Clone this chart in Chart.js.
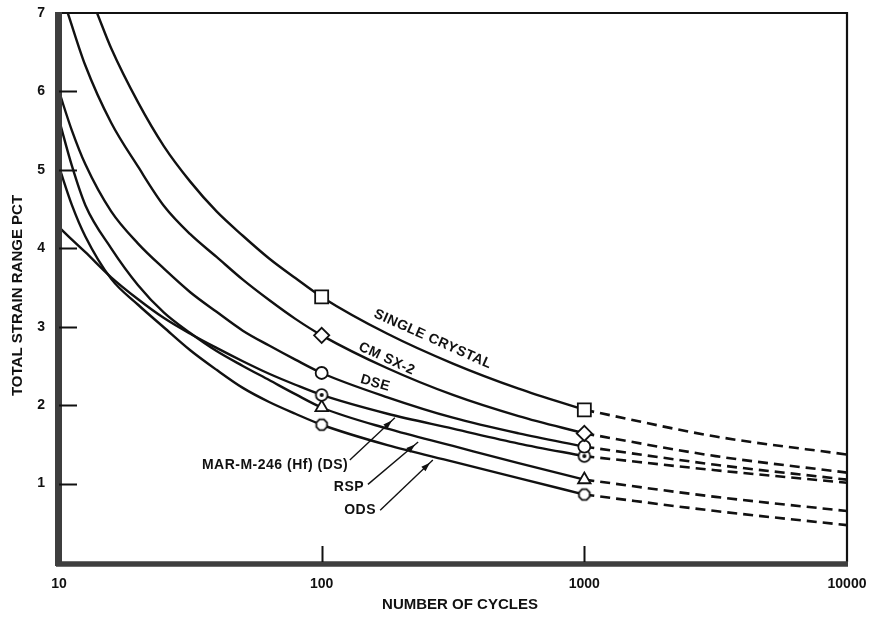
<!DOCTYPE html>
<html>
<head>
<meta charset="utf-8">
<script src="https://cdn.jsdelivr.net/npm/chart.js@4.4.1/dist/chart.umd.min.js"></script>
<style>
  html, body { margin: 0; padding: 0; background: #fff; }
  canvas { display: block; }
</style>
</head>
<body>
<canvas id="c" width="872" height="618"></canvas>
<script>
// ---------- data ----------
const xTickValues = [10, 100, 1000, 10000];
const yTickValues = [1, 2, 3, 4, 5, 6, 7];
const markerCycles = [100, 1000];
const xTitle = 'NUMBER OF CYCLES';
const yTitle = 'TOTAL STRAIN RANGE PCT';

// cycles at which the lower curves were read
const cyc  = [10, 11.2, 12.6, 15.8, 20, 25.1, 31.6, 39.8, 50.1, 63.1, 79.4, 100, 178, 316, 562, 1000];

const scX  = [13.96, 15.8, 20, 25.1, 31.6, 39.8, 50.1, 63.1, 79.4, 100, 178, 316, 562, 1000];
const scY  = [7.0, 6.55, 5.86, 5.30, 4.85, 4.47, 4.16, 3.87, 3.62, 3.38, 2.91, 2.53, 2.21, 1.94];
const cmX  = [10.8, 12.6, 15.8, 20, 25.1, 31.6, 39.8, 50.1, 63.1, 79.4, 100, 178, 316, 562, 1000];
const cmY  = [7.0, 6.33, 5.60, 5.04, 4.54, 4.18, 3.89, 3.60, 3.34, 3.10, 2.89, 2.47, 2.13, 1.86, 1.64];
const dseY = [6.0, 5.50, 5.07, 4.47, 4.06, 3.74, 3.44, 3.19, 2.95, 2.76, 2.58, 2.41, 2.10, 1.84, 1.64, 1.47];
const marY = [4.27, 4.11, 3.95, 3.63, 3.35, 3.11, 2.91, 2.73, 2.56, 2.40, 2.26, 2.13, 1.89, 1.70, 1.51, 1.35];
const rspY = [5.64, 5.05, 4.55, 4.00, 3.53, 3.18, 2.92, 2.69, 2.50, 2.32, 2.14, 1.97, 1.70, 1.48, 1.26, 1.05];
const odsY = [5.04, 4.55, 4.15, 3.61, 3.28, 2.99, 2.70, 2.45, 2.22, 2.04, 1.89, 1.75, 1.49, 1.28, 1.07, 0.86];

// extrapolated (dashed) parts
const extX   = [1000, 3162, 10000];
const scExt  = [1.94, 1.60, 1.37];
const cmExt  = [1.64, 1.35, 1.14];
const dseExt = [1.47, 1.24, 1.05];
const marExt = [1.35, 1.17, 1.01];
const rspExt = [1.05, 0.83, 0.65];
const odsExt = [0.86, 0.65, 0.47];

const seriesNames = ['SINGLE CRYSTAL', 'CM SX-2', 'DSE', 'MAR-M-246 (Hf) (DS)', 'RSP', 'ODS'];

// ---------- custom marker images ----------
function makeMarker(kind) {
  const c = document.createElement('canvas');
  const s = 16;
  c.width = s; c.height = s;
  const g = c.getContext('2d');
  g.lineWidth = 1.8;
  g.strokeStyle = '#111';
  g.fillStyle = '#fff';
  const cx = s / 2, cy = s / 2;
  if (kind === 'dotcircle') {
    g.beginPath(); g.arc(cx, cy, 5.8, 0, Math.PI * 2); g.fill(); g.stroke();
    g.fillStyle = '#111';
    g.beginPath(); g.arc(cx, cy, 2.0, 0, Math.PI * 2); g.fill();
  } else {
    g.beginPath();
    for (let i = 0; i < 8; i++) {
      const a = Math.PI / 8 + i * Math.PI / 4;
      const r = 5.8;
      const px = cx + r * Math.cos(a), py = cy + r * Math.sin(a);
      if (i === 0) g.moveTo(px, py); else g.lineTo(px, py);
    }
    g.closePath(); g.fill(); g.stroke();
  }
  return c;
}
const dotCircle = makeMarker('dotcircle');
const octagon = makeMarker('octagon');

function pts(xs, ys) { return xs.map((x, i) => ({ x: x, y: ys[i] })); }

function solid(name, xs, ys, style, radius) {
  return {
    label: name,
    data: pts(xs, ys),
    borderColor: '#111',
    borderWidth: 2.4,
    cubicInterpolationMode: 'monotone',
    fill: false,
    order: 0,
    pointStyle: style,
    pointBackgroundColor: '#fff',
    pointBorderColor: '#111',
    pointBorderWidth: 1.8,
    pointRadius: ctx => (ctx.raw && markerCycles.includes(ctx.raw.x)) ? radius : 0,
    pointHoverRadius: ctx => (ctx.raw && markerCycles.includes(ctx.raw.x)) ? radius : 0
  };
}
function dashed(name, ys) {
  return {
    label: name + ' (extrapolated)',
    data: pts(extX, ys),
    borderColor: '#111',
    borderWidth: 2.6,
    borderDash: [10, 6],
    cubicInterpolationMode: 'monotone',
    fill: false,
    order: 1,
    pointRadius: 0,
    pointHoverRadius: 0
  };
}

// ---------- annotations (positions in data units) ----------
const curveLabels = [
  { text: 'SINGLE CRYSTAL', x: 265, y: 2.84, rot: 24, align: 'center' },
  { text: 'CM SX-2', x: 177, y: 2.59, rot: 25, align: 'center' },
  { text: 'DSE', x: 160, y: 2.28, rot: 16, align: 'center' },
  { text: 'MAR-M-246 (Hf) (DS)', x: 35, y: 1.24, rot: 0, align: 'left' },
  { text: 'RSP', x: 127, y: 0.96, rot: 0, align: 'center' },
  { text: 'ODS', x: 140, y: 0.66, rot: 0, align: 'center' }
];
const leaders = [
  { from: [128, 1.30], to: [190, 1.84] },
  { from: [150, 0.99], to: [233, 1.53] },
  { from: [167, 0.66], to: [265, 1.30] }
];

const FONT = '"Liberation Sans", Arial, Helvetica, sans-serif';

const decorPlugin = {
  id: 'decor',
  afterDatasetsDraw(chart) {
    const { ctx, chartArea: a, scales: { x, y } } = chart;
    ctx.save();
    ctx.strokeStyle = '#111';
    ctx.lineWidth = 2.2;
    ctx.beginPath();
    ctx.moveTo(a.left, a.top); ctx.lineTo(a.right, a.top); ctx.lineTo(a.right, a.bottom);
    ctx.stroke();
    ctx.strokeStyle = '#3e3e3e';
    ctx.lineWidth = 7;
    ctx.beginPath(); ctx.moveTo(a.left - 0.5, a.top - 1); ctx.lineTo(a.left - 0.5, a.bottom + 4); ctx.stroke();
    ctx.lineWidth = 5.5;
    ctx.beginPath(); ctx.moveTo(a.left - 3, a.bottom + 2); ctx.lineTo(a.right + 1, a.bottom + 2); ctx.stroke();
    ctx.strokeStyle = '#111';
    ctx.lineWidth = 2;
    y.ticks.forEach(t => {
      if (t.value > 0 && t.value < 7) {
        const py = Math.round(y.getPixelForValue(t.value)) + 0.5;
        ctx.beginPath(); ctx.moveTo(a.left, py); ctx.lineTo(a.left + 18, py); ctx.stroke();
      }
    });
    x.ticks.forEach(t => {
      if (t.value > xTickValues[0] && t.value < xTickValues[xTickValues.length - 1]) {
        const px = Math.round(x.getPixelForValue(t.value)) + 0.5;
        ctx.beginPath(); ctx.moveTo(px, a.bottom); ctx.lineTo(px, a.bottom - 16); ctx.stroke();
      }
    });
    ctx.fillStyle = '#111';
    ctx.textBaseline = 'middle';
    curveLabels.forEach(l => {
      const px = x.getPixelForValue(l.x), py = y.getPixelForValue(l.y);
      ctx.save();
      ctx.translate(px, py);
      ctx.rotate(l.rot * Math.PI / 180);
      ctx.font = 'bold 14px ' + FONT;
      ctx.letterSpacing = '0.5px';
      ctx.textAlign = l.align;
      ctx.fillText(l.text, 0, 0);
      ctx.restore();
    });
    ctx.lineWidth = 1.4;
    leaders.forEach(ld => {
      const x1 = x.getPixelForValue(ld.from[0]), y1 = y.getPixelForValue(ld.from[1]);
      const x2 = x.getPixelForValue(ld.to[0]), y2 = y.getPixelForValue(ld.to[1]);
      ctx.beginPath(); ctx.moveTo(x1, y1); ctx.lineTo(x2, y2); ctx.stroke();
      const ang = Math.atan2(y2 - y1, x2 - x1);
      const tipX = x2 - Math.cos(ang) * 4, tipY = y2 - Math.sin(ang) * 4;
      ctx.beginPath();
      ctx.moveTo(tipX, tipY);
      ctx.lineTo(tipX - 9 * Math.cos(ang) + 3 * Math.sin(ang), tipY - 9 * Math.sin(ang) - 3 * Math.cos(ang));
      ctx.lineTo(tipX - 9 * Math.cos(ang) - 3 * Math.sin(ang), tipY - 9 * Math.sin(ang) + 3 * Math.cos(ang));
      ctx.closePath();
      ctx.fill();
    });
    // axis titles (placed slightly off-centre, as in the reference)
    ctx.font = 'bold 15px ' + FONT;
    ctx.textAlign = 'center';
    ctx.textBaseline = 'middle';
    ctx.fillText(xTitle, (a.left + a.right) / 2 + 7, chart.height - 13);
    ctx.save();
    ctx.translate(18, (a.top + a.bottom) / 2 + 8);
    ctx.rotate(-Math.PI / 2);
    ctx.fillText(yTitle, 0, 0);
    ctx.restore();
    ctx.restore();
  }
};

const datasets = [
  solid(seriesNames[0], scX, scY, 'rect', 9.2),
  solid(seriesNames[1], cmX, cmY, 'rectRot', 7.6),
  solid(seriesNames[2], cyc, dseY, 'circle', 6),
  solid(seriesNames[3], cyc, marY, dotCircle, 6),
  solid(seriesNames[4], cyc, rspY, 'triangle', 7.2),
  solid(seriesNames[5], cyc, odsY, octagon, 6),
  dashed(seriesNames[0], scExt),
  dashed(seriesNames[1], cmExt),
  dashed(seriesNames[2], dseExt),
  dashed(seriesNames[3], marExt),
  dashed(seriesNames[4], rspExt),
  dashed(seriesNames[5], odsExt)
];

// invisible tick marks give the label gap without enlarging the layout padding
const hiddenGrid = len => ({
  display: true, drawOnChartArea: false, drawTicks: true,
  tickLength: len, color: 'rgba(0,0,0,0)'
});

new Chart(document.getElementById('c'), {
  type: 'line',
  data: { datasets: datasets },
  plugins: [decorPlugin],
  options: {
    responsive: false,
    animation: false,
    devicePixelRatio: 1,
    layout: { autoPadding: false, padding: { top: 13, right: 25, left: 0, bottom: 0 } },
    plugins: { legend: { display: false }, tooltip: { enabled: false } },
    scales: {
      x: {
        type: 'logarithmic',
        min: xTickValues[0],
        max: xTickValues[xTickValues.length - 1],
        afterBuildTicks: s => { s.ticks = xTickValues.map(v => ({ value: v })); },
        afterFit: s => { s.height = 56; },
        grid: hiddenGrid(14),
        border: { display: false },
        ticks: {
          autoSkip: false, maxRotation: 0, minRotation: 0,
          padding: 0,
          color: '#111',
          font: { family: FONT, size: 14, weight: 'bold' },
          callback: v => String(v)
        },
        title: { display: false, text: xTitle }
      },
      y: {
        type: 'linear',
        min: 0,
        max: 7,
        afterBuildTicks: s => { s.ticks = yTickValues.map(v => ({ value: v })); },
        afterFit: s => { s.width = 59; },
        grid: hiddenGrid(13),
        border: { display: false },
        ticks: {
          padding: 1,
          color: '#111',
          font: { family: FONT, size: 14, weight: 'bold' },
          callback: v => String(v)
        },
        title: { display: false, text: yTitle }
      }
    }
  }
});
</script>
</body>
</html>
